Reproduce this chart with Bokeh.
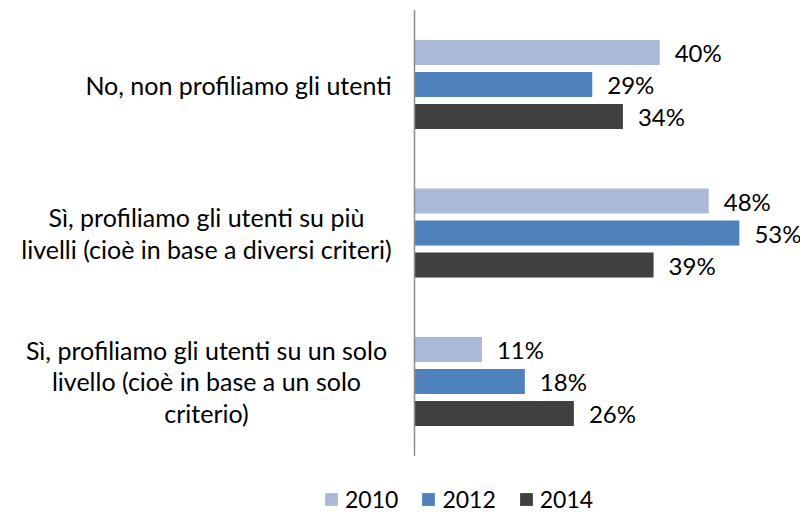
from bokeh.plotting import figure
from bokeh.models import Range1d, Legend, LegendItem
from bokeh.embed import file_html
from bokeh.resources import INLINE
from bokeh.core.properties import value

# ---- data ----
categories = [
    "No, non profiliamo gli utenti",
    "Sì, profiliamo gli utenti su più\nlivelli (cioè in base a diversi criteri)",
    "Sì, profiliamo gli utenti su un solo\nlivello (cioè in base a un solo\ncriterio)",
]
years = ["2010", "2012", "2014"]
values_2010 = [40, 48, 11]
values_2012 = [29, 53, 18]
values_2014 = [34, 39, 26]

# ---- styles / layout ----
colors = ["#AAB9D8", "#4F81BD", "#404040"]
FONT = "Lato"
FS = "25px"
FS_VAL = "24px"
W, H = 800, 515
PX_PER_UNIT = 6.13          # pixels per percentage point
AXIS_PX = 414               # x pixel of the value axis
CENTER0_PX = 84             # y pixel of first category centre
PITCH_PX = 148.5            # pixels between category centres
BAR_PX = 25
STEP_PX = 32

x0 = -AXIS_PX / PX_PER_UNIT
x1 = (W - AXIS_PX) / PX_PER_UNIT
y_top = -CENTER0_PX / PITCH_PX
y_bot = (H - CENTER0_PX) / PITCH_PX

p = figure(width=W, height=H, output_backend="svg", toolbar_location=None,
           x_range=Range1d(x0, x1), y_range=Range1d(y_bot, y_top),
           min_border=0, min_border_left=0, min_border_right=0,
           min_border_top=0, min_border_bottom=0)
p.axis.visible = False
p.grid.visible = False
p.outline_line_color = None
p.background_fill_color = "white"
p.border_fill_color = "white"

n = len(categories)
series = [values_2010, values_2012, values_2014]
bar_h = BAR_PX / PITCH_PX
step = STEP_PX / PITCH_PX
renderers = []
for k, (vals, col) in enumerate(zip(series, colors)):
    off = (k - 1) * step
    ys = [i + off for i in range(n)]
    r = p.hbar(y=ys, right=vals, left=0, height=bar_h, fill_color=col,
               line_color=None)
    renderers.append(r)
    p.text(x=vals, y=ys, text=[f"{v}%" for v in vals], x_offset=15,
           text_align="left", text_baseline="middle",
           text_font=value(FONT), text_font_size=FS_VAL, text_color="#000000")

# value axis line
p.segment(x0=[0], y0=[-0.5], x1=[0], y1=[n - 0.5], line_color="#8C8C8C",
          line_width=1.5)

# category labels (centred blocks, right edge near axis)
label_center_px = [238, 206, 206]
lx = [(c - AXIS_PX) / PX_PER_UNIT for c in label_center_px]
p.text(x=lx, y=list(range(n)), text=categories, text_align="center",
       text_baseline="middle", text_font=value(FONT), text_font_size=FS,
       text_color="#000000", text_line_height=1.06)

legend = Legend(items=[LegendItem(label=yr, renderers=[r])
                       for yr, r in zip(years, renderers)],
                orientation="horizontal", location=(323, 2))
legend.glyph_width = 16
legend.glyph_height = 16
legend.label_standoff = 6
legend.spacing = 22
legend.padding = 0
legend.margin = 0
legend.border_line_color = None
legend.background_fill_alpha = 0
legend.label_text_font = FONT
legend.label_text_font_size = "23px"
legend.label_text_color = "#000000"
p.add_layout(legend, "center")

open("out.html", "w").write(file_html(p, INLINE))
